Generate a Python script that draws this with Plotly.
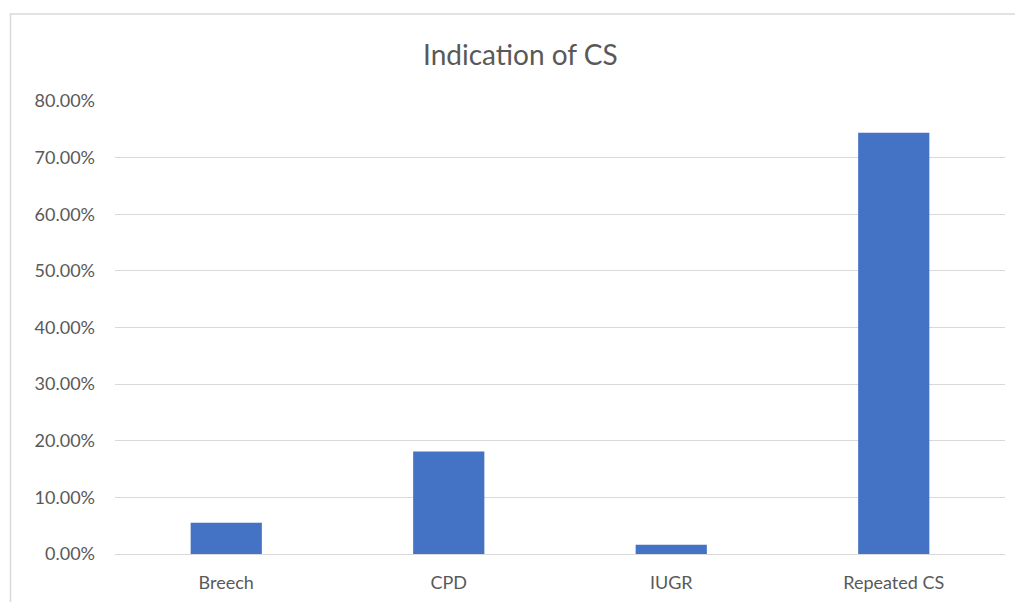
import plotly.graph_objects as go

categories = ["Breech", "CPD", "IUGR", "Repeated CS"]
values = [5.5, 18.1, 1.65, 74.4]
tick_vals = [0, 10, 20, 30, 40, 50, 60, 70, 80]
tick_text = [f"{v:.2f}%" for v in tick_vals]
title_text = "Indication of CS"

W, H = 1015, 602
L, R, T, B = 115, 10, 101, 48
pw = W - L - R
ph = H - T - B

fig = go.Figure()
fig.add_trace(go.Bar(
    x=categories, y=values,
    marker=dict(color="#4472C4", line=dict(width=0)),
    width=0.32,
))

font_family = "Lato, 'Open Sans', sans-serif"
fig.update_layout(
    width=W, height=H,
    margin=dict(l=L, r=R, t=T, b=B),
    paper_bgcolor="white", plot_bgcolor="white",
    showlegend=False,
    font=dict(family=font_family, color="#595959", size=18),
    xaxis=dict(showgrid=False, showline=False, ticks="", tickfont=dict(size=18),
               range=[-0.5, 3.5], ticklabelstandoff=16),
    yaxis=dict(range=[0, 80], tickvals=tick_vals, ticktext=tick_text,
               showgrid=True, gridcolor="#d9d9d9", gridwidth=1,
               zeroline=True, zerolinecolor="#d9d9d9", zerolinewidth=1,
               showline=False, ticks="", ticklabelstandoff=19,
               tickfont=dict(size=18)),
    annotations=[dict(text=title_text, xref="paper", yref="paper",
                      x=(520 - L) / pw, y=(H - B - 54) / ph,
                      xanchor="center", yanchor="middle", showarrow=False,
                      font=dict(size=28, color="#595959", family=font_family))],
    shapes=[dict(type="rect", xref="paper", yref="paper",
                 x0=(10.5 - L) / pw, x1=1.2, y0=-0.3, y1=(H - B - 14) / ph,
                 line=dict(color="#d9d9d9", width=1.5), fillcolor="rgba(0,0,0,0)",
                 layer="below")],
)

fig.write_html("out.html")
